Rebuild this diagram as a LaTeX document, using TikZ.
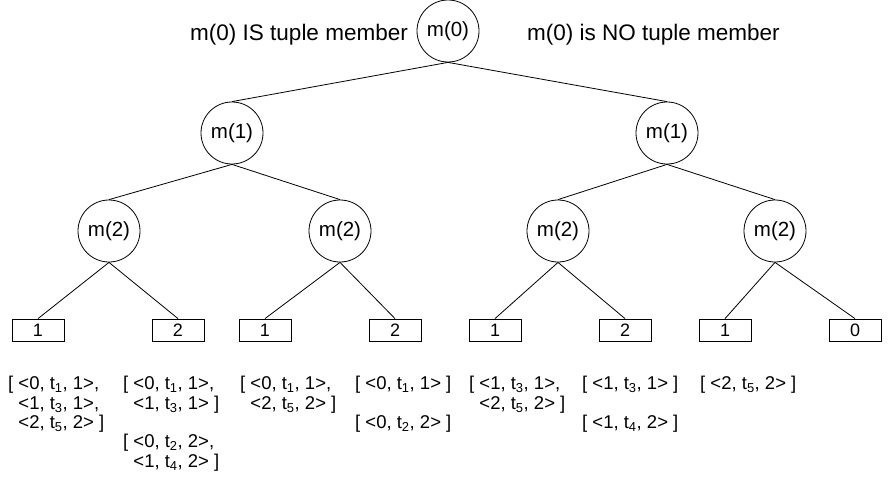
\documentclass[tikz,border=0pt]{standalone}
\usepackage{fontspec}
\setmainfont{Liberation Sans}
\newcommand{\subx}[1]{\textsubscript{#1}}
\newcommand{\ind}{\phantom{[ }}
\begin{document}
\begin{tikzpicture}[x=1pt,y=-1pt,
  mnode/.style={draw, circle, minimum size=62pt, inner sep=0pt, line width=0.8pt, font=\fontsize{20.5}{20.5}\selectfont},
  leaf/.style={draw, rectangle, minimum width=52pt, minimum height=22pt, inner sep=0pt, line width=0.8pt, font=\fontsize{18}{18}\selectfont},
  lab/.style={anchor=north west, align=left, inner sep=0pt, font=\fontsize{18.5}{19.5}\selectfont},
  toplab/.style={font=\fontsize{22.5}{22.5}\selectfont, inner sep=0pt},
  edge/.style={line width=0.8pt}]
\useasboundingbox (0,0) rectangle (894,479);
\node[mnode] (r) at (448,31) {m(0)};
\node[toplab, anchor=east] (tl) at (408,35) {m(0) IS tuple member};
\node[toplab, anchor=west] (tr) at (527,35) {m(0) is NO tuple member};
\node[mnode] (a) at (232,133) {m(1)};
\node[mnode] (b) at (667,133) {m(1)};
\node[mnode] (a1) at (109,231) {m(2)};
\node[mnode] (a2) at (340,231) {m(2)};
\node[mnode] (b1) at (558,231) {m(2)};
\node[mnode] (b2) at (775,231) {m(2)};
\node[leaf] (l1) at (38,330) {1};
\node[leaf] (l2) at (178,330) {2};
\node[leaf] (l3) at (265,330) {1};
\node[leaf] (l4) at (395,330) {2};
\node[leaf] (l5) at (495,330) {1};
\node[leaf] (l6) at (625,330) {2};
\node[leaf] (l7) at (725,330) {1};
\node[leaf] (l8) at (855,330) {0};
\draw[edge] (r.south) -- (a.north);
\draw[edge] (r.south) -- (b.north);
\draw[edge] (a.south) -- (a1.north);
\draw[edge] (a.south) -- (a2.north);
\draw[edge] (b.south) -- (b1.north);
\draw[edge] (b.south) -- (b2.north);
\draw[edge] (a1.south) -- (l1.north);
\draw[edge] (a1.south) -- (l2.north);
\draw[edge] (a2.south) -- (l3.north);
\draw[edge] (a2.south) -- (l4.north);
\draw[edge] (b1.south) -- (l5.north);
\draw[edge] (b1.south) -- (l6.north);
\draw[edge] (b2.south) -- (l7.north);
\draw[edge] (b2.south) -- (l8.north);
\node[lab] (t1) at (8,376) {[ <0, t\subx{1}, 1>,\\ \ind<1, t\subx{3}, 1>,\\ \ind<2, t\subx{5}, 2> ]};
\node[lab] (t2) at (123,376) {[ <0, t\subx{1}, 1>,\\ \ind<1, t\subx{3}, 1> ]};
\node[lab] (t2b) at (123,434) {[ <0, t\subx{2}, 2>,\\ \ind<1, t\subx{4}, 2> ]};
\node[lab] (t3) at (240,376) {[ <0, t\subx{1}, 1>,\\ \ind<2, t\subx{5}, 2> ]};
\node[lab] (t4) at (355,376) {[ <0, t\subx{1}, 1> ]};
\node[lab] (t4b) at (355,415) {[ <0, t\subx{2}, 2> ]};
\node[lab] (t5) at (469,376) {[ <1, t\subx{3}, 1>,\\ \ind<2, t\subx{5}, 2> ]};
\node[lab] (t6) at (582,376) {[ <1, t\subx{3}, 1> ]};
\node[lab] (t6b) at (582,415) {[ <1, t\subx{4}, 2> ]};
\node[lab] (t7) at (700,376) {[ <2, t\subx{5}, 2> ]};
\end{tikzpicture}
\end{document}
